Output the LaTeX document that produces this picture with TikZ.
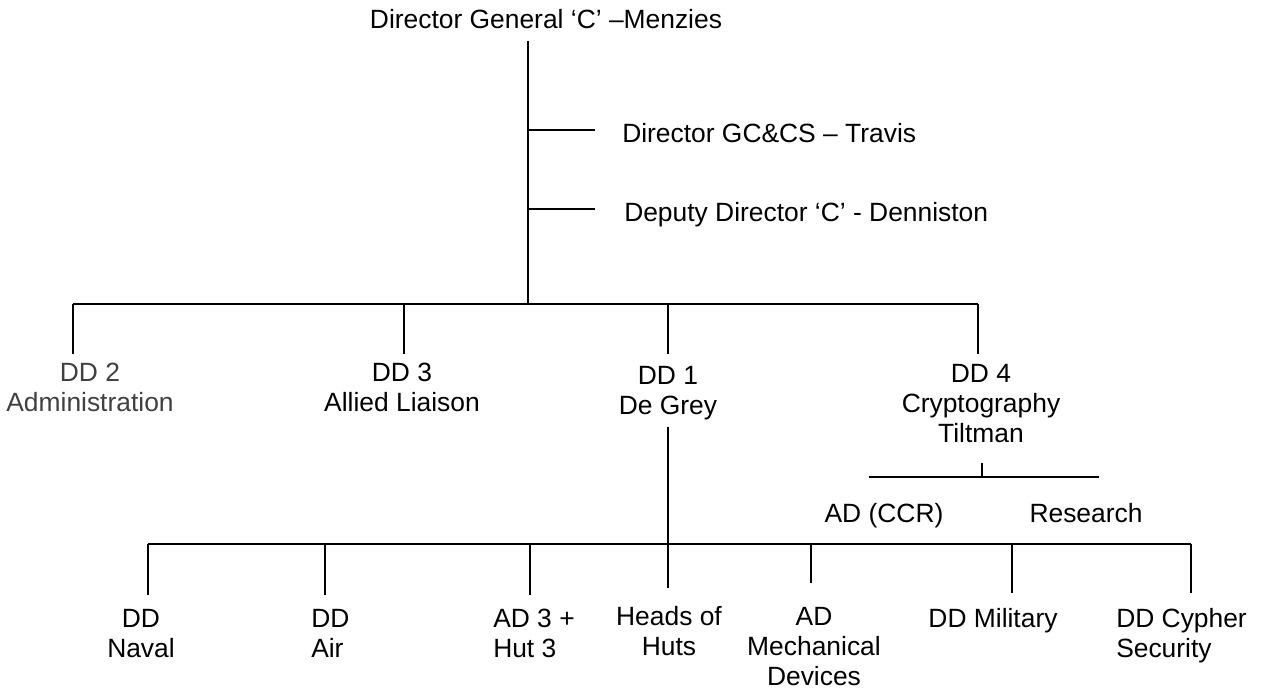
\documentclass[tikz,border=0pt]{standalone}
\usepackage{fontspec}
\setmainfont{Liberation Sans}
\usepackage{xcolor}
\usetikzlibrary{positioning}
\definecolor{admingrey}{RGB}{64,64,64}

\begin{document}
\begin{tikzpicture}[x=0.5pt, y=-0.5pt, line width=1.25pt,
  every node/.style={font=\fontsize{13.2}{15}\selectfont, inner sep=3pt, align=center, anchor=base},
  leftunit/.style={anchor=base west, align=left, inner sep=0pt}]
  \useasboundingbox (0,0) rectangle (1265,690);
  % top of the chart
  \node (dg) at (546,29) {Director General ‘C’ –Menzies};
  \node[leftunit] (gccs) at (621,143) {Director GC\&CS – Travis};
  \node[leftunit] (dep) at (623,221) {Deputy Director ‘C’ - Denniston};
  % deputy directors (base = last line)
  \node[text=admingrey] (dd2) at (90,411) {DD 2\\Administration};
  \node (dd3) at (402,411) {DD 3\\Allied Liaison};
  \node (dd1) at (668,414) {DD 1\\De Grey};
  \node (dd4) at (981,442) {DD 4\\Cryptography\\Tiltman};
  \node (ccr) at (884,522) {AD (CCR)};
  \node (res) at (1086,522) {Research};
  % sections under DD 1
  \node (naval) at (141,657) {DD\\Naval};
  \node[leftunit] (air) at (310,657) {DD\\Air};
  \node[leftunit] (ad3) at (492,657) {AD 3 +\\Hut 3};
  \node (heads) at (669,655) {Heads of\\Huts};
  \node (mech) at (814,685) {AD\\Mechanical\\Devices};
  \node (mil) at (993,627) {DD Military};
  \node[leftunit] (cypher) at (1115,657) {DD Cypher\\Security};
  % connectors
  \coordinate (top) at (528,41);
  \coordinate (hub) at (528,304);
  \coordinate (sub) at (982,477);
  \coordinate (low) at (668,544);
  \draw (top) -- (hub);
  \draw (top |- 0,130) -- ++(67,0);
  \draw (top |- 0,209) -- ++(67,0);
  \draw (73,304) -- (978,304);
  \foreach \x in {73,404,668,978}
    \draw (\x,304) -- ++(0,50);
  \draw (sub) -- ++(0,-14);
  \draw (sub) ++(-113,0) -- ++(230,0);
  \draw (dd1.south) -- (low) -- ++(0,44);
  \draw (148,544) -- (1191,544);
  \foreach \x/\y in {148/595, 325/595, 530/595, 811/583, 1012/593, 1191/593}
    \draw (\x,544) -- (\x,\y);
\end{tikzpicture}
\end{document}
